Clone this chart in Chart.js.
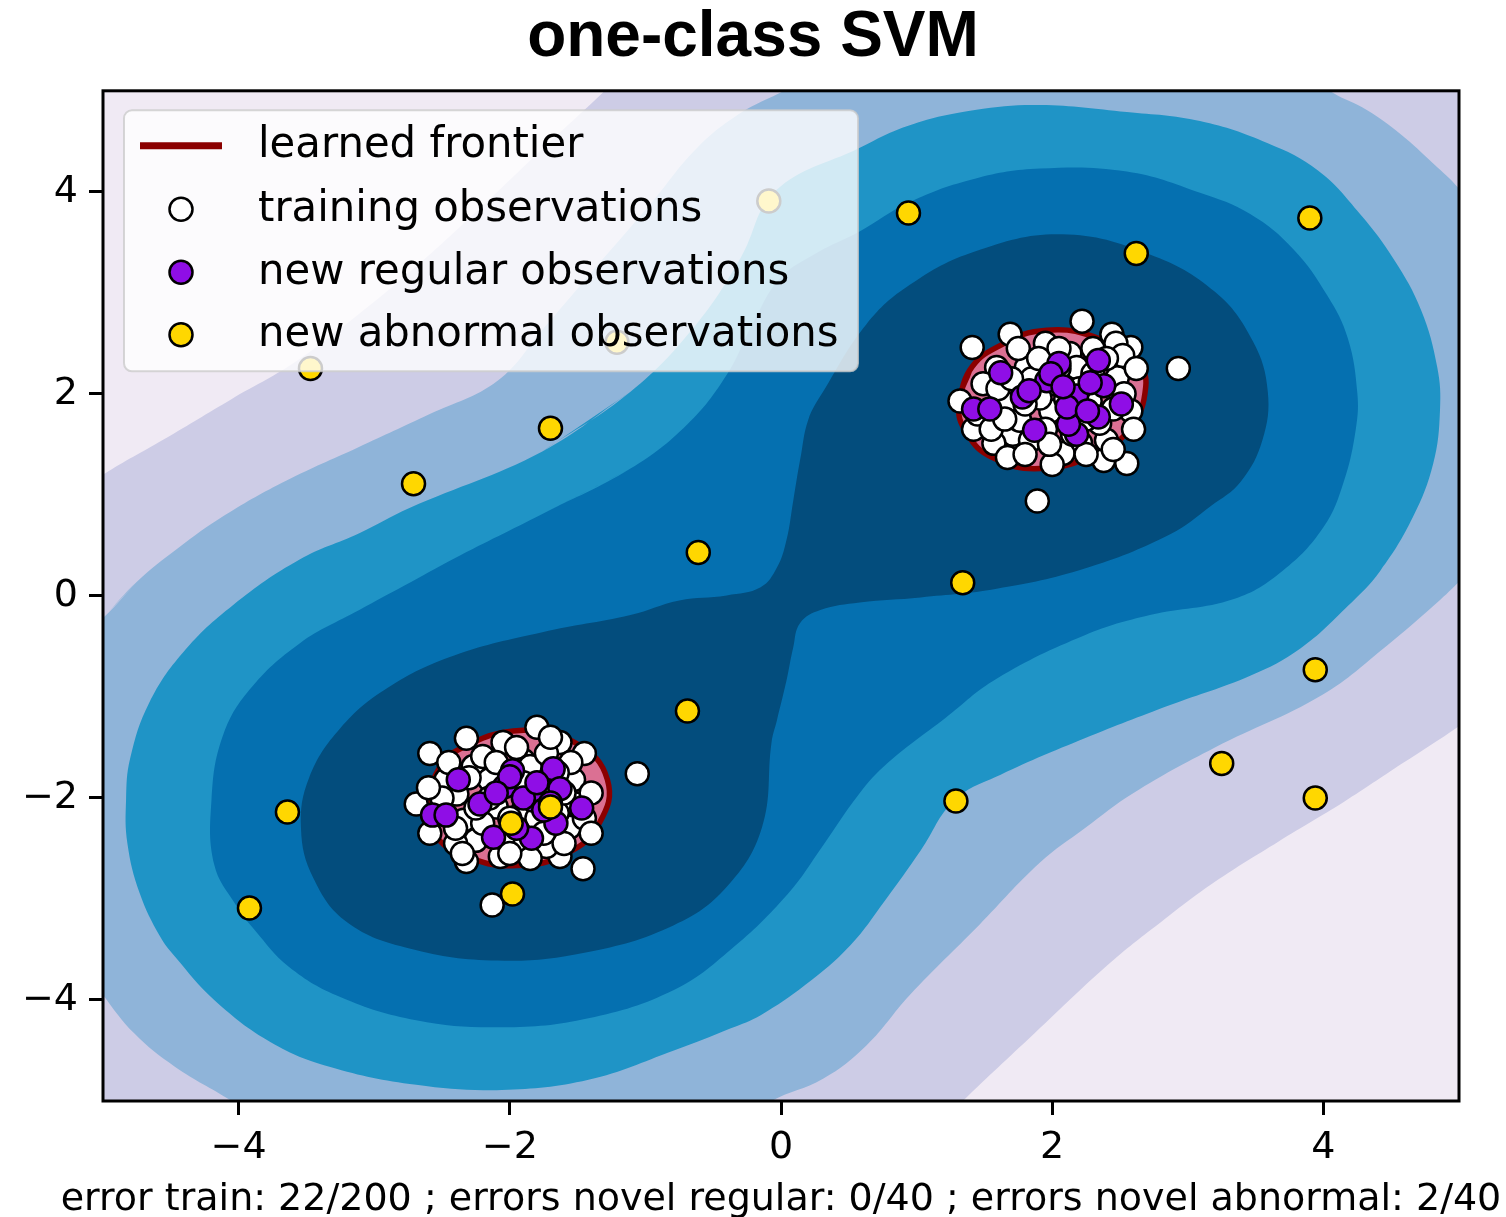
<!DOCTYPE html>
<html>
<head>
<meta charset="utf-8">
<title>one-class SVM</title>
<script src="https://cdn.jsdelivr.net/npm/chart.js"></script>
<style>
  html, body { margin: 0; padding: 0; background: #ffffff; }
  #wrap { width: 1506px; height: 1217px; }
</style>
</head>
<body>
<div id="wrap"><canvas id="chart" width="1506" height="1217"></canvas></div>
<script>
// ---- text ----
const titleText = 'one-class SVM';
const errorSummary = 'error train: 22/200 ; errors novel regular: 0/40 ; errors novel abnormal: 2/40';
const tickValues = [-4, -2, 0, 2, 4];
const axisMin = -5;
const axisMax = 5;

// ---- decision function level sets (closed outlines, data coordinates) ----
// level 1: boundary between the palest band and the lavender band
const levelOutline1 = [
  [-5.0, 1.20], [-4.55, 1.55], [-4.05, 1.95], [-3.60, 2.30], [-3.15, 2.75], [-2.70, 3.25],
  [-2.25, 3.80], [-1.78, 4.40], [-1.30, 5.00], [-0.85, 5.60], [0.50, 6.30], [2.50, 6.60],
  [4.80, 6.30], [6.20, 4.90], [6.60, 2.60], [6.20, 0.40], [5.45, -0.85], [5.01, -1.28],
  [4.58, -1.66], [4.15, -2.04], [3.67, -2.43], [3.20, -2.83], [2.81, -3.22], [2.43, -3.63],
  [1.87, -4.33], [1.31, -5.04], [0.85, -5.65], [-0.50, -6.30], [-2.50, -6.60], [-4.80, -6.30],
  [-6.20, -4.90], [-6.60, -2.60], [-6.20, -0.40], [-5.45, 0.80]
];
// level 2: lavender / light blue
const levelOutline2 = [
  [-5.0, -0.22], [-4.75, 0.14], [-4.45, 0.47], [-4.10, 0.80], [-3.65, 1.14], [-3.12, 1.47],
  [-2.59, 1.80], [-2.09, 2.13], [-1.75, 2.65], [-1.40, 3.20], [-0.95, 3.90],
  [-0.63, 4.42], [-0.31, 4.77], [0.05, 5.02], [0.60, 5.45], [1.60, 5.75], [2.70, 5.70],
  [3.60, 5.40], [4.07, 4.98], [4.32, 4.81], [4.57, 4.57], [4.81, 4.28], [5.0, 4.03],
  [5.30, 3.50], [5.55, 2.60], [5.60, 1.60], [5.40, 0.70], [5.0, 0.14], [4.81, -0.10],
  [4.47, -0.49], [3.99, -0.98], [3.20, -1.50], [2.60, -1.95], [2.24, -2.30], [1.91, -2.64],
  [1.46, -3.26], [0.95, -3.95], [0.63, -4.45], [0.31, -4.78], [-0.07, -5.0], [-0.60, -5.45],
  [-1.60, -5.75], [-2.70, -5.70], [-3.60, -5.40], [-4.05, -5.0], [-4.47, -4.66], [-4.77, -4.33],
  [-5.0, -3.95], [-5.30, -3.40], [-5.55, -2.50], [-5.60, -1.50], [-5.40, -0.70]
];
// level 3: light blue / mid blue
const levelOutline3 = [
  [-1.76, 1.43], [-1.11, 2.02], [-0.63, 2.68], [-0.30, 3.34], [-0.04, 4.01], [0.57, 4.43],
  [0.95, 4.66], [1.43, 4.81], [1.91, 4.86], [2.55, 4.79], [3.09, 4.70], [3.59, 4.48],
  [3.96, 4.21], [4.27, 3.78], [4.52, 3.33], [4.72, 2.83], [4.84, 2.26], [4.86, 1.84],
  [4.81, 1.31], [4.66, 0.78], [4.42, 0.25], [4.18, -0.10], [3.83, -0.52], [3.46, -0.79],
  [2.87, -1.08], [2.24, -1.41], [1.62, -1.77], [1.28, -2.02], [1.03, -2.52], [0.77, -3.01],
  [0.51, -3.46], [0.18, -3.85], [-0.15, -4.15], [-0.37, -4.28], [-0.79, -4.50], [-1.42, -4.79],
  [-2.06, -4.89], [-2.69, -4.84], [-3.33, -4.66], [-3.76, -4.42], [-4.18, -4.00], [-4.47, -3.57],
  [-4.58, -3.37], [-4.73, -2.94], [-4.82, -2.45], [-4.83, -2.02], [-4.80, -1.61], [-4.66, -1.06],
  [-4.41, -0.56], [-4.04, -0.09], [-3.55, 0.36], [-3.11, 0.62], [-2.74, 0.87]
];
// level 4: mid blue / blue
const levelOutline4 = [
  [-1.76, 0.81], [-1.11, 1.26], [-0.69, 1.70], [-0.40, 2.19], [-0.21, 2.69], [-0.01, 3.14],
  [0.27, 3.40], [0.57, 3.60], [0.95, 3.90], [1.43, 4.13], [1.91, 4.23], [2.55, 4.20],
  [3.09, 3.99], [3.46, 3.78], [3.78, 3.43], [4.03, 2.97], [4.18, 2.55], [4.25, 2.01],
  [4.24, 1.66], [4.15, 1.13], [4.00, 0.68], [3.70, 0.25], [3.34, -0.03], [2.72, -0.19],
  [2.24, -0.39], [1.59, -0.82], [1.21, -1.21], [0.79, -1.65], [0.57, -1.97], [0.31, -2.47],
  [0.05, -2.95], [-0.37, -3.50], [-0.79, -3.90], [-1.42, -4.18], [-2.06, -4.27], [-2.69, -4.20],
  [-3.25, -3.97], [-3.63, -3.67], [-3.88, -3.31], [-4.02, -3.06], [-4.18, -2.66], [-4.20, -2.02],
  [-4.12, -1.40], [-3.92, -0.93], [-3.55, -0.47], [-3.11, -0.14], [-2.78, 0.10], [-2.41, 0.37]
];
// level 5: blue / navy (two lobes joined through a narrow neck)
const levelOutline5 = [
  [0.14, 1.34], [0.20, 1.74], [0.31, 2.02], [0.63, 2.69], [0.95, 3.08], [1.43, 3.41],
  [2.07, 3.58], [2.72, 3.38], [3.20, 3.01], [3.48, 2.52], [3.59, 2.02], [3.55, 1.54],
  [3.39, 1.13], [3.17, 0.89], [2.87, 0.61], [2.24, 0.27], [1.59, 0.07], [1.03, -0.015],
  [0.58, -0.065], [0.29, -0.14], [0.14, -0.27], [0.09, -0.51], [0.04, -0.84], [-0.03, -1.23],
  [-0.07, -1.45], [-0.14, -2.29], [-0.40, -2.88], [-0.79, -3.26], [-1.44, -3.53], [-2.09, -3.61],
  [-2.74, -3.49], [-3.20, -3.23], [-3.45, -2.79], [-3.54, -2.30], [-3.48, -1.80], [-3.25, -1.31],
  [-2.90, -0.91], [-2.41, -0.59], [-1.76, -0.36], [-1.11, -0.19], [-0.75, -0.045], [-0.40, 0.005],
  [-0.15, 0.085], [-0.03, 0.28], [0.04, 0.55], [0.09, 0.94]
];
// learned frontier (decision function = 0)
const frontierUpper = [
  [1.31, 1.90], [1.39, 2.23], [1.59, 2.46], [1.96, 2.63], [2.38, 2.53], [2.63, 2.30],
  [2.69, 2.07], [2.58, 1.67], [2.33, 1.41], [1.91, 1.26], [1.56, 1.37], [1.37, 1.61]
];
const frontierLower = [
  [-2.61, -2.12], [-2.55, -1.78], [-2.39, -1.53], [-1.90, -1.33], [-1.51, -1.46], [-1.28, -1.82],
  [-1.34, -2.25], [-1.58, -2.55], [-1.95, -2.67], [-2.30, -2.59], [-2.54, -2.39]
];

// ---- observations ----
const trainingPoints = [
  // upper cluster
  [1.41, 2.46], [1.69, 2.59], [2.22, 2.72], [2.44, 2.59], [2.58, 2.46], [2.93, 2.25],
  [1.32, 1.93], [1.42, 1.65], [1.71, 1.41], [2.38, 1.34], [2.55, 1.31], [1.89, 0.94],
  [1.81, 2.26], [2.13, 2.40], [2.48, 2.16], [2.58, 1.83], [1.67, 1.90], [1.99, 1.83],
  [1.71, 1.60], [2.21, 1.51], [2.40, 1.54], [1.59, 2.26], [2.01, 2.10], [2.28, 1.93],
  [1.84, 1.54], [2.08, 1.41], [1.49, 2.10], [1.76, 1.74], [1.91, 1.96], [2.18, 2.26],
  [2.35, 1.71], [2.53, 2.00], [1.57, 1.51], [1.67, 1.37], [2.47, 2.50], [2.52, 2.38],
  [1.75, 2.45], [1.95, 2.50], [2.05, 2.45], [2.30, 2.45], [1.60, 2.05], [1.45, 1.80],
  [1.85, 2.15], [2.10, 1.95], [2.25, 1.75], [1.95, 1.65], [2.15, 1.60], [1.80, 1.40],
  [2.00, 1.30], [2.25, 1.40], [2.45, 1.45], [2.60, 1.65], [2.62, 2.25], [1.70, 2.15],
  [1.90, 2.35], [2.40, 2.35], [1.55, 1.65], [2.05, 2.25], [2.20, 2.05], [1.80, 1.90],
  [2.45, 1.85], [1.65, 1.75], [2.30, 2.20], [1.98, 1.50],
  // lower cluster
  [-2.59, -1.56], [-2.32, -1.41], [-1.80, -1.30], [-1.63, -1.45], [-1.45, -1.56], [-1.06, -1.76],
  [-2.69, -2.06], [-2.59, -2.35], [-2.32, -2.63], [-1.63, -2.58], [-1.46, -2.70], [-2.13, -3.06],
  [-2.27, -1.69], [-1.90, -1.63], [-1.53, -1.82], [-2.39, -1.96], [-2.10, -2.09], [-1.78, -1.96],
  [-2.34, -2.22], [-2.25, -2.42], [-1.95, -2.45], [-1.73, -2.48], [-1.56, -2.29], [-2.47, -1.82],
  [-2.15, -1.82], [-1.85, -1.69], [-1.73, -1.56], [-1.51, -2.06], [-2.52, -2.15], [-2.07, -2.58],
  [-1.90, -2.12], [-2.20, -1.59], [-2.45, -1.65], [-2.05, -1.45], [-1.95, -1.50], [-1.70, -1.40],
  [-1.55, -1.65], [-1.40, -1.95], [-1.45, -2.20], [-1.60, -2.45], [-1.85, -2.60], [-2.05, -2.40],
  [-2.20, -2.25], [-2.40, -2.45], [-2.50, -2.00], [-2.30, -1.80], [-2.00, -1.75], [-1.65, -1.75],
  [-1.80, -2.20], [-2.00, -2.20], [-2.15, -2.00], [-1.65, -2.15], [-2.35, -2.55], [-1.75, -2.35],
  [-2.60, -1.90], [-1.40, -2.35], [-2.10, -1.65], [-1.90, -1.85], [-2.25, -2.10], [-1.60, -1.95],
  [-2.40, -2.30], [-2.00, -2.55]
];
const regularPoints = [
  [1.62, 2.21], [1.42, 1.85], [1.54, 1.85], [1.78, 1.97], [1.96, 2.13], [2.05, 2.30],
  [2.34, 2.33], [2.38, 2.08], [2.18, 1.98], [2.51, 1.90], [2.34, 1.77], [1.87, 1.64],
  [2.18, 1.60], [2.12, 1.70], [1.99, 2.20], [2.28, 2.11], [2.11, 1.87], [1.83, 2.03],
  [2.26, 1.83], [2.08, 2.07],
  [-2.38, -1.82], [-2.57, -2.17], [-2.47, -2.17], [-2.22, -2.06], [-2.04, -1.89], [-1.98, -1.73],
  [-1.68, -1.71], [-1.63, -1.91], [-1.83, -2.02], [-1.47, -2.10], [-1.66, -2.25], [-2.12, -2.39],
  [-1.84, -2.40], [-2.00, -1.79], [-1.75, -2.12], [-1.90, -2.00], [-2.10, -1.95], [-1.70, -2.05],
  [-1.95, -2.30], [-1.80, -1.85]
];
const abnormalPoints = [
  [-0.09, 3.91], [0.94, 3.79], [3.90, 3.74], [2.62, 3.39], [-3.47, 2.25], [-1.21, 2.51],
  [-1.70, 1.66], [-2.71, 1.11], [-0.61, 0.43], [1.34, 0.13], [3.94, -0.73], [-0.69, -1.14],
  [3.25, -1.66], [1.29, -2.03], [3.94, -2.00], [-3.64, -2.14], [-3.92, -3.09], [-1.99, -2.25],
  [-1.70, -2.09], [-1.98, -2.95]
];

// ---- styling ----
const bandColors = ['#f0eaf4', '#cdcce6', '#8fb4d9', '#1f94c6', '#0570b0', '#034d7d'];
const frontierLine = '#8b0000';
const frontierFill = '#db7093';
const markerRadius = 11.5;
const markerEdge = 2.5;
const tickFont = { family: '"DejaVu Sans", sans-serif', size: 38 };

const toXY = pts => pts.map(([x, y]) => ({ x, y }));
// repeat the first two vertices so the smoothed outline closes without a kink
const closeOutline = pts => pts.concat(pts.slice(0, 2));
const minusLabel = v => (v < 0 ? '\u2212' + Math.abs(v) : String(v));

const levelOutlines = [levelOutline1, levelOutline2, levelOutline3, levelOutline4, levelOutline5];
const bandSets = levelOutlines.map((pts, i) => ({
  type: 'line',
  label: 'level ' + (i + 1),
  data: toXY(closeOutline(pts)),
  showLine: true,
  fill: 'shape',
  backgroundColor: bandColors[i + 1],
  borderWidth: 0,
  pointRadius: 0,
  pointHoverRadius: 0,
  pointHitRadius: 0,
  tension: 0.4,
  order: 30 - i
}));

const frontierSet = (pts, label) => ({
  type: 'line',
  label: label,
  data: toXY(closeOutline(pts)),
  showLine: true,
  fill: 'shape',
  backgroundColor: frontierFill,
  borderColor: frontierLine,
  borderWidth: 5.5,
  pointRadius: 0,
  pointHoverRadius: 0,
  pointHitRadius: 0,
  tension: 0.45,
  order: 10
});

const pointSet = (pts, label, color, order) => ({
  type: 'scatter',
  label: label,
  data: toXY(pts),
  backgroundColor: color,
  borderColor: '#000000',
  pointBackgroundColor: color,
  pointBorderColor: '#000000',
  pointBorderWidth: markerEdge,
  pointRadius: markerRadius,
  pointHoverRadius: markerRadius,
  order: order
});

const datasets = [
  ...bandSets,
  frontierSet(frontierUpper, 'learned frontier'),
  frontierSet(frontierLower, 'learned frontier (lower)'),
  pointSet(trainingPoints, 'training observations', '#ffffff', 3),
  pointSet(regularPoints, 'new regular observations', '#8f0ee6', 2),
  pointSet(abnormalPoints, 'new abnormal observations', '#ffd700', 1)
];

// ---- plot background, frame, boxed legend and error summary ----
const backdrop = {
  id: 'backdrop',
  beforeDraw(chart) {
    const ctx = chart.ctx;
    ctx.save();
    ctx.fillStyle = '#ffffff';
    ctx.fillRect(0, 0, chart.width, chart.height);
    ctx.restore();
  },
  beforeDatasetsDraw(chart) {
    const a = chart.chartArea;
    const ctx = chart.ctx;
    ctx.save();
    ctx.fillStyle = bandColors[0];
    ctx.fillRect(a.left, a.top, a.right - a.left, a.bottom - a.top);
    ctx.restore();
  },
  afterDraw(chart) {
    // x-axis caption, drawn at its natural width (wider than the plot area)
    const ctx = chart.ctx;
    const xs = chart.scales.x;
    ctx.save();
    ctx.font = '38px "DejaVu Sans", sans-serif';
    ctx.fillStyle = '#000000';
    ctx.textAlign = 'center';
    ctx.textBaseline = 'alphabetic';
    ctx.fillText(errorSummary, (xs.left + xs.right) / 2, xs.bottom - 7);
    ctx.restore();
  }
};

const frameAndLegend = {
  id: 'frameAndLegend',
  afterDatasetsDraw(chart) {
    const ctx = chart.ctx;
    const a = chart.chartArea;
    ctx.save();
    ctx.strokeStyle = '#000000';
    ctx.lineWidth = 3;
    ctx.strokeRect(a.left, a.top, a.right - a.left, a.bottom - a.top);

    // legend box
    const bx = a.left + 21, by = a.top + 19.5, bw = 734, bh = 261, r = 8;
    ctx.beginPath();
    ctx.moveTo(bx + r, by);
    ctx.lineTo(bx + bw - r, by);
    ctx.arcTo(bx + bw, by, bx + bw, by + r, r);
    ctx.lineTo(bx + bw, by + bh - r);
    ctx.arcTo(bx + bw, by + bh, bx + bw - r, by + bh, r);
    ctx.lineTo(bx + r, by + bh);
    ctx.arcTo(bx, by + bh, bx, by + bh - r, r);
    ctx.lineTo(bx, by + r);
    ctx.arcTo(bx, by, bx + r, by, r);
    ctx.closePath();
    ctx.fillStyle = 'rgba(255,255,255,0.8)';
    ctx.fill();
    ctx.strokeStyle = 'rgba(204,204,204,0.8)';
    ctx.lineWidth = 2;
    ctx.stroke();

    const ds = chart.data.datasets;
    const entries = ['learned frontier', 'training observations',
                     'new regular observations', 'new abnormal observations']
      .map(lbl => ds.find(d => d.label === lbl));
    const baselines = [47, 110.5, 173.5, 236];
    const handleX = bx + 57;
    const textX = bx + 134;
    ctx.font = '41.8px "DejaVu Sans", sans-serif';
    ctx.textBaseline = 'alphabetic';
    ctx.textAlign = 'left';
    entries.forEach((d, i) => {
      const base = by + baselines[i];
      const cy = base - 11.5;
      if (d.type === 'line') {
        ctx.strokeStyle = d.borderColor;
        ctx.lineWidth = 7;
        ctx.lineCap = 'butt';
        ctx.beginPath();
        ctx.moveTo(handleX - 41, cy);
        ctx.lineTo(handleX + 41, cy);
        ctx.stroke();
      } else {
        ctx.beginPath();
        ctx.arc(handleX, cy, d.pointRadius, 0, Math.PI * 2);
        ctx.fillStyle = d.pointBackgroundColor;
        ctx.fill();
        ctx.lineWidth = d.pointBorderWidth;
        ctx.strokeStyle = d.pointBorderColor;
        ctx.stroke();
      }
      ctx.fillStyle = '#000000';
      ctx.fillText(d.label, textX, base);
    });
    ctx.restore();
  }
};

const setTicks = scale => { scale.ticks = tickValues.map(v => ({ value: v })); };

new Chart(document.getElementById('chart'), {
  type: 'scatter',
  data: { datasets: datasets },
  options: {
    responsive: false,
    devicePixelRatio: 1,
    animation: false,
    events: [],
    layout: { padding: 0 },
    elements: { line: { capBezierPoints: false } },
    plugins: {
      legend: { display: false },
      tooltip: { enabled: false },
      title: {
        display: true,
        text: titleText,
        color: '#000000',
        font: { family: '"Liberation Sans", Arial, sans-serif', size: 64, weight: 'bold', lineHeight: 1.2 },
        padding: { top: 0, bottom: 14 }
      }
    },
    scales: {
      x: {
        type: 'linear',
        min: axisMin,
        max: axisMax,
        afterBuildTicks: setTicks,
        afterFit: s => { s.height = 116; },
        grid: { display: true, drawOnChartArea: false, drawTicks: true, tickLength: 14, tickWidth: 3, tickColor: '#000000' },
        border: { display: false },
        ticks: { color: '#000000', font: tickFont, padding: 10, autoSkip: false, maxRotation: 0, callback: minusLabel },
        title: { display: false }
      },
      y: {
        type: 'linear',
        min: axisMin,
        max: axisMax,
        afterBuildTicks: setTicks,
        afterFit: s => { s.width = 103; },
        grid: { display: true, drawOnChartArea: false, drawTicks: true, tickLength: 14, tickWidth: 3, tickColor: '#000000' },
        border: { display: false },
        ticks: { color: '#000000', font: tickFont, padding: 11, autoSkip: false, callback: minusLabel }
      },
      yRight: {
        type: 'linear',
        axis: 'y',
        position: 'right',
        min: axisMin,
        max: axisMax,
        afterFit: s => { s.width = 47; },
        grid: { display: false },
        border: { display: false },
        ticks: { display: false }
      }
    }
  },
  plugins: [backdrop, frameAndLegend]
});
</script>
</body>
</html>
